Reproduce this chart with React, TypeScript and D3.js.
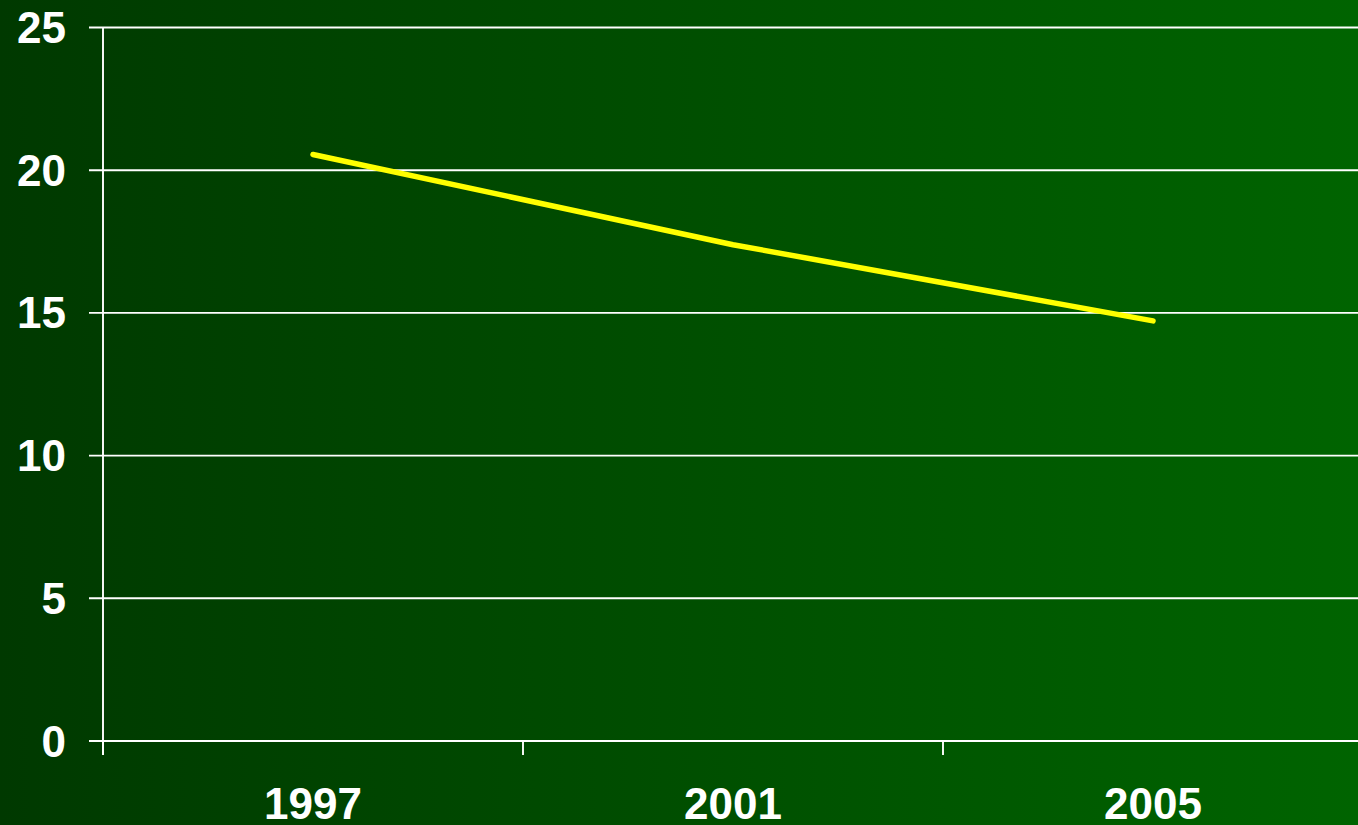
import React, { useEffect, useRef } from "react";
import * as d3 from "d3";

const years = ["1997", "2001", "2005"];
const values = [20.55, 17.39, 14.72];
const yTicks = [0, 5, 10, 15, 20, 25];

const W = 1358;
const H = 825;

export default function App() {
  const ref = useRef<SVGSVGElement>(null);

  useEffect(() => {
    document.body.style.margin = "0";
    const svg = d3.select(ref.current);
    svg.selectAll("*").remove();

    const left = 103;
    const bandW = 420;
    const x = d3
      .scaleBand<string>()
      .domain(years)
      .range([left, left + bandW * years.length])
      .padding(0);
    const y = d3.scaleLinear().domain([0, 25]).range([741, 27.5]);

    const defs = svg.append("defs");
    const grad = defs
      .append("linearGradient")
      .attr("id", "bg")
      .attr("x1", "0%")
      .attr("x2", "100%")
      .attr("y1", "0%")
      .attr("y2", "0%");
    grad.append("stop").attr("offset", "0%").attr("stop-color", "#003900");
    grad.append("stop").attr("offset", "100%").attr("stop-color", "#006400");

    svg
      .append("rect")
      .attr("width", W)
      .attr("height", H)
      .attr("fill", "url(#bg)");

    // horizontal gridlines with left ticks
    svg
      .append("g")
      .selectAll("line")
      .data(yTicks)
      .join("line")
      .attr("x1", left - 14)
      .attr("x2", W)
      .attr("y1", (d) => y(d))
      .attr("y2", (d) => y(d))
      .attr("stroke", "#ffffff")
      .attr("stroke-width", 1.9);

    // y axis line
    svg
      .append("line")
      .attr("x1", left)
      .attr("x2", left)
      .attr("y1", y(25))
      .attr("y2", y(0) + 14)
      .attr("stroke", "#ffffff")
      .attr("stroke-width", 1.9);

    // x tick marks at band boundaries
    const boundaries = years.map((d) => x(d) as number).concat([left + bandW * years.length]);
    svg
      .append("g")
      .selectAll("line")
      .data(boundaries)
      .join("line")
      .attr("x1", (d) => d)
      .attr("x2", (d) => d)
      .attr("y1", y(0))
      .attr("y2", y(0) + 14)
      .attr("stroke", "#ffffff")
      .attr("stroke-width", 1.9);

    // y labels
    svg
      .append("g")
      .selectAll("text")
      .data(yTicks)
      .join("text")
      .attr("x", 66)
      .attr("y", (d) => y(d) + 15.5)
      .attr("text-anchor", "end")
      .attr("fill", "#ffffff")
      .attr("font-family", "Liberation Sans, Arial, sans-serif")
      .attr("font-weight", "bold")
      .attr("font-size", 44)
      .text((d) => String(d));

    // x labels
    svg
      .append("g")
      .selectAll("text")
      .data(years)
      .join("text")
      .attr("x", (d) => (x(d) as number) + x.bandwidth() / 2)
      .attr("y", 819)
      .attr("text-anchor", "middle")
      .attr("fill", "#ffffff")
      .attr("font-family", "Liberation Sans, Arial, sans-serif")
      .attr("font-weight", "bold")
      .attr("font-size", 44)
      .text((d) => d);

    const line = d3
      .line<number>()
      .x((_, i) => (x(years[i]) as number) + x.bandwidth() / 2)
      .y((d) => y(d));

    svg
      .append("path")
      .datum(values)
      .attr("d", line)
      .attr("fill", "none")
      .attr("stroke", "#ffff00")
      .attr("stroke-width", 5.5)
      .attr("stroke-linecap", "round")
      .attr("stroke-linejoin", "round");
  }, []);

  return (
    <svg
      ref={ref}
      width={W}
      height={H}
      style={{ position: "absolute", left: 0, top: 0, display: "block" }}
    />
  );
}
